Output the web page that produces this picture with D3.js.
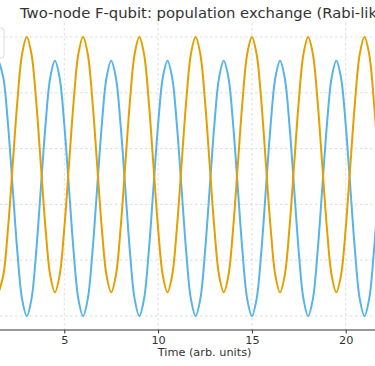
<!DOCTYPE html>
<html><head><meta charset="utf-8">
<script src="https://cdn.jsdelivr.net/npm/d3@7"></script>
<style>html,body{margin:0;padding:0;background:#fff;overflow:hidden}svg{display:block}text{font-family:"DejaVu Sans",sans-serif}</style>
</head><body>
<script>
const title = "Two-node F-qubit: population exchange (Rabi-like)";
const xLabel = "Time (arb. units)";
const xTicks = [5, 10, 15, 20];
const yTicks = [0, 0.2, 0.4, 0.6, 0.8, 1.0];
const time = [1.5,1.75,2,2.25,2.5,2.75,3,3.25,3.5,3.75,4,4.25,
4.5,4.75,5,5.25,5.5,5.75,6,6.25,6.5,6.75,7,7.25,
7.5,7.75,8,8.25,8.5,8.75,9,9.25,9.5,9.75,10,10.25,
10.5,10.75,11,11.25,11.5,11.75,12,12.25,12.5,12.75,13,13.25,
13.5,13.75,14,14.25,14.5,14.75,15,15.25,15.5,15.75,16,16.25,
16.5,16.75,17,17.25,17.5,17.75,18,18.25,18.5,18.75,19,19.25,
19.5,19.75,20,20.25,20.5,20.75,21,21.25,21.5,21.75];
const popA = [0.085,0.146,0.314,0.542,0.771,0.939,1,0.939,0.771,0.542,0.314,0.146,
0.085,0.146,0.314,0.542,0.771,0.939,1,0.939,0.771,0.542,0.314,0.146,
0.085,0.146,0.314,0.542,0.771,0.939,1,0.939,0.771,0.542,0.314,0.146,
0.085,0.146,0.314,0.542,0.771,0.939,1,0.939,0.771,0.542,0.314,0.146,
0.085,0.146,0.314,0.542,0.771,0.939,1,0.939,0.771,0.542,0.314,0.146,
0.085,0.146,0.314,0.542,0.771,0.939,1,0.939,0.771,0.542,0.314,0.146,
0.085,0.146,0.314,0.542,0.771,0.939,1,0.939,0.771,0.542];
const popB = [0.915,0.854,0.686,0.458,0.229,0.061,0,0.061,0.229,0.458,0.686,0.854,
0.915,0.854,0.686,0.458,0.229,0.061,0,0.061,0.229,0.458,0.686,0.854,
0.915,0.854,0.686,0.458,0.229,0.061,0,0.061,0.229,0.458,0.686,0.854,
0.915,0.854,0.686,0.458,0.229,0.061,0,0.061,0.229,0.458,0.686,0.854,
0.915,0.854,0.686,0.458,0.229,0.061,0,0.061,0.229,0.458,0.686,0.854,
0.915,0.854,0.686,0.458,0.229,0.061,0,0.061,0.229,0.458,0.686,0.854,
0.915,0.854,0.686,0.458,0.229,0.061,0,0.061,0.229,0.458];

const W = 375, H = 366;
const svg = d3.select("body").append("svg").attr("width", W).attr("height", H);
const x = d3.scaleLinear().domain([5, 20]).range([64.3, 345.7]);
const y = d3.scaleLinear().domain([-0.05, 1.05]).range([330, 23]);

// grid
const g = svg.append("g");
g.selectAll(".vg").data(xTicks).join("line")
  .attr("x1", d => x(d)).attr("x2", d => x(d)).attr("y1", 23).attr("y2", 330)
  .attr("stroke", "#d4d4d4").attr("stroke-width", 0.8).attr("stroke-dasharray", "2.5,2.5");
g.selectAll(".hg").data(yTicks).join("line")
  .attr("x1", 0).attr("x2", W).attr("y1", d => y(d)).attr("y2", d => y(d))
  .attr("stroke", "#d4d4d4").attr("stroke-width", 0.8).attr("stroke-dasharray", "2.5,2.5");

// lines
const line = (vals) => d3.line().x((d, i) => x(time[i])).y(d => y(d)).curve(d3.curveCatmullRom.alpha(0.5))(vals);
svg.append("path").attr("d", line(popB)).attr("fill", "none").attr("stroke", "#56B4E9").attr("stroke-width", 2);
svg.append("path").attr("d", line(popA)).attr("fill", "none").attr("stroke", "#E69F00").attr("stroke-width", 2);

// x axis
const ax = svg.append("g").attr("transform", "translate(0,330)")
  .call(d3.axisBottom(x).tickValues(xTicks).tickSize(3.5).tickPadding(2).tickFormat(d3.format("d")));
ax.select(".domain").remove();
ax.selectAll(".tick line").attr("stroke", "#333");
ax.selectAll(".tick text").attr("fill", "#333").style("font-size", "11.3px").style("font-family", "DejaVu Sans");
svg.append("line").attr("x1", 0).attr("x2", W).attr("y1", 330).attr("y2", 330).attr("stroke", "#333").attr("stroke-width", 1);

svg.append("text").attr("x", 204.6).attr("y", 356).attr("text-anchor", "middle")
  .attr("fill", "#333").style("font-size", "11.3px").text(xLabel);

// legend box (mostly outside view)
svg.append("rect").attr("x", -120).attr("y", 28).attr("width", 124).attr("height", 30).attr("rx", 3)
  .attr("fill", "#fff").attr("fill-opacity", 0.8).attr("stroke", "#d0d0d0").attr("stroke-width", 0.8);

svg.append("text").attr("x", 20).attr("y", 18).attr("fill", "#333").style("font-size", "14.8px").text(title);
</script>
</body></html>
